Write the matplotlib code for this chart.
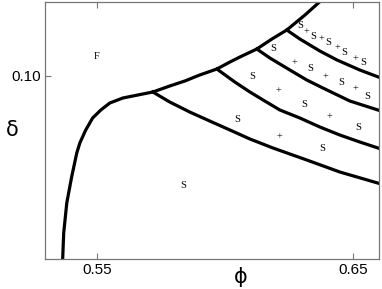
import matplotlib.pyplot as plt

# boundary curves (phi, delta)
left_phi = [0.5367, 0.5367, 0.5371, 0.5383, 0.5402, 0.5422, 0.5434, 0.5457, 0.5484, 0.5516, 0.5551, 0.5602, 0.5719]
left_del = [0.0790, 0.0817, 0.0843, 0.0873, 0.0899, 0.0923, 0.0933, 0.0946, 0.0958, 0.0966, 0.0973, 0.0978, 0.0984]

top_phi = [0.5719, 0.5785, 0.5844, 0.5902, 0.5969, 0.6020, 0.6059, 0.6125, 0.6184, 0.6242, 0.6313, 0.6387]
top_del = [0.0984, 0.0990, 0.0995, 0.1001, 0.1007, 0.1014, 0.1019, 0.1027, 0.1037, 0.1046, 0.1061, 0.1078]

a_phi = [0.5719, 0.5785, 0.5863, 0.5941, 0.6020, 0.6098, 0.6188, 0.6320, 0.6449, 0.6610]
a_del = [0.0984, 0.0974, 0.0964, 0.0955, 0.0946, 0.0937, 0.0928, 0.0916, 0.0904, 0.0892]

b_phi = [0.5969, 0.6039, 0.6098, 0.6156, 0.6215, 0.6293, 0.6371, 0.6449, 0.6527, 0.6610]
b_del = [0.1007, 0.0994, 0.0984, 0.0975, 0.0966, 0.0958, 0.0949, 0.0941, 0.0934, 0.0927]

c_phi = [0.6125, 0.6176, 0.6254, 0.6320, 0.6383, 0.6488, 0.6610]
c_del = [0.1027, 0.1018, 0.1006, 0.0996, 0.0988, 0.0975, 0.0965]

d_phi = [0.6242, 0.6293, 0.6371, 0.6438, 0.6527, 0.6610]
d_del = [0.1046, 0.1037, 0.1025, 0.1016, 0.1006, 0.0998]

# region labels
lab_text = ['F', 'S',
            'S', '+', 'S',
            'S', '+', 'S', '+', 'S',
            'S', '+', 'S', '+', 'S', '+', 'S',
            'S', '+', 'S', '+', 'S', '+', 'S', '+', 'S']
lab_phi = [0.5500, 0.5836,
           0.6047, 0.6215, 0.6379,
           0.6105, 0.6211, 0.6309, 0.6410, 0.6520,
           0.6188, 0.6270, 0.6332, 0.6391, 0.6453, 0.6508, 0.6555,
           0.6293, 0.6320, 0.6344, 0.6379, 0.6402, 0.6438, 0.6465, 0.6508, 0.6539]
lab_del = [0.1019, 0.0890,
           0.0956, 0.0939, 0.0927,
           0.0999, 0.0985, 0.0971, 0.0959, 0.0948,
           0.1027, 0.1013, 0.1007, 0.0999, 0.0993, 0.0987, 0.0979,
           0.1050, 0.1044, 0.1039, 0.1037, 0.1033, 0.1028, 0.1023, 0.1017, 0.1013]

fig = plt.figure(figsize=(3.82, 2.89), dpi=100)
ax = fig.add_axes([45/382, 30/289, 334/382, 257/289])

for xs, ys in [(left_phi, left_del), (top_phi, top_del), (a_phi, a_del),
               (b_phi, b_del), (c_phi, c_del), (d_phi, d_del)]:
    ax.plot(xs, ys, color='black', lw=2.3, solid_joinstyle='round')

for t, x, y in zip(lab_text, lab_phi, lab_del):
    ax.text(x, y, t, fontsize=7.5, family='Liberation Serif', ha='center', va='center')

ax.set_xlim(0.5298, 0.6602)
ax.set_ylim(0.0817, 0.1074)
ax.set_xticks([0.55, 0.65])
ax.set_xticklabels(['0.55', '0.65'])
ax.set_yticks([0.10])
ax.set_yticklabels(['0.10'])
ax.tick_params(direction='in', length=4, width=0.8, color='#777777', top=True,
               labelsize=11, pad=3)
for lbl in ax.get_xticklabels() + ax.get_yticklabels():
    lbl.set_family('Liberation Sans')
for s in ax.spines.values():
    s.set_color('#777777')
    s.set_linewidth(0.9)

fig.text(241/382, 1 - 277/289, 'ϕ', fontsize=15, ha='center', va='center')
fig.text(12/382, 1 - 130/289, 'δ', fontsize=15, ha='center', va='center')

fig.savefig('out.png', dpi=100)
